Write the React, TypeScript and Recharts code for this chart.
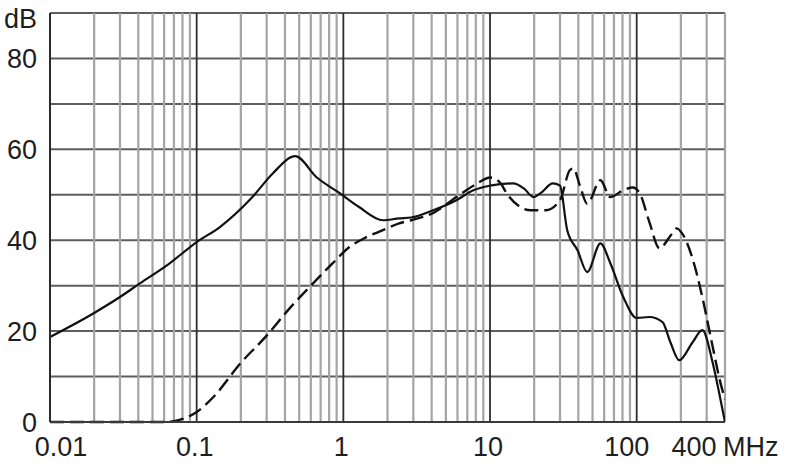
import { LineChart, Line, XAxis, YAxis, CartesianGrid, ReferenceLine } from "recharts";

/* ---- data (MHz, dB) ---- */

const solidFreq = [
  0.01, 0.02, 0.03, 0.041, 0.063, 0.1, 0.144, 0.24, 0.33, 0.47, 0.66, 0.95, 1.28,
  1.86, 2.4, 2.9, 4.1, 5.9, 7.7, 10, 14.4, 17, 19.8, 22, 26.8, 30, 33.6, 39.5, 46,
  56.6, 66, 81, 100, 122, 150, 170, 195, 240, 280, 330, 365, 400,
];
const solidDb = [
  18.7, 24, 27.5, 30.5, 34.5, 39.6, 42.9, 49.5, 54.7, 58.5, 53.8, 50.3, 47.3,
  44.4, 44.8, 45, 46.6, 48.8, 51, 52, 52.5, 51.4, 49.5, 50.3, 52.5, 52, 42.2, 37.8, 33,
  39.3, 35, 27.5, 22.9, 23.1, 22, 17.5, 13.6, 17.5, 20.2, 13, 6.4, 0,
];

const dashedFreq = [
  0.01, 0.03, 0.06, 0.075, 0.1, 0.13, 0.2, 0.3, 0.43, 0.6, 0.85, 1.1, 1.4, 1.86,
  2.4, 2.9, 4.1, 5.9, 8.2, 10, 11.7, 13, 19, 24, 30, 35, 37, 41, 46, 56.6, 66, 81,
  94, 105, 122, 143, 170, 187, 204, 255, 280, 330, 370, 400,
];
const dashedDb = [
  0, 0, 0, 0.4, 2.2, 5.5, 13, 19, 25, 30, 35, 38.5, 40.5, 42.2,
  43.7, 44.4, 46, 49.5, 52.5, 53.8, 52.7, 50.3, 46.6, 46.6, 48.8, 55.4, 55.8, 52, 48, 53.2, 49.5, 51,
  51.6, 50.3, 44, 38.2, 41, 42.6, 41.5, 33, 27.5, 16.5, 9, 5,
];

const yTicks = [0, 10, 20, 30, 40, 50, 60, 70, 80, 90];
const yLabels: Record<number, string> = { 0: "0", 20: "20", 40: "40", 60: "60", 80: "80", 90: "dB" };

const xTicks = [0.01, 0.1, 1, 10, 100, 400];
const xLabels = ["0.01", "0.1", "1", "10", "100", "400"];
const xLabelShift = [11, -2, -2, -2, -10, -31];

const decades = [0.01, 0.1, 1, 10, 100];
const minorSteps = [2, 3, 4, 5, 6, 7, 8, 9];

const solidData = solidFreq.map((f, i) => ({ f, db: solidDb[i] }));
const dashedData = dashedFreq.map((f, i) => ({ f, db: dashedDb[i] }));

const minorLines: number[] = [];
decades.forEach((d) => {
  minorSteps.forEach((m) => {
    const v = +(d * m).toPrecision(3);
    if (v < 400) minorLines.push(v);
  });
});

const FONT = "'Liberation Sans', Arial, sans-serif";
const INK = "#1e1e1e";

function YTick({ y, payload }: any) {
  const label = yLabels[payload.value];
  if (!label) return null;
  const isUnit = payload.value === 90;
  return (
    <text
      x={37}
      y={y + (isUnit ? 6 : 1)}
      textAnchor="end"
      dominantBaseline="central"
      fontFamily={FONT}
      fontSize={27}
      fill={INK}
    >
      {label}
    </text>
  );
}

function XTick({ x, payload, index }: any) {
  const label = xLabels[index];
  if (label === undefined) return null;
  return (
    <g>
      <text
        x={x + xLabelShift[index]}
        y={447}
        textAnchor="middle"
        dominantBaseline="central"
        fontFamily={FONT}
        fontSize={27}
        fill={INK}
      >
        {label}
      </text>
      {index === xTicks.length - 1 && (
        <text
          x={x - 2}
          y={447}
          textAnchor="start"
          dominantBaseline="central"
          fontFamily={FONT}
          fontSize={27}
          fill={INK}
        >
          MHz
        </text>
      )}
    </g>
  );
}

export default function App() {
  return (
    <div style={{ position: "fixed", left: 0, top: 0, width: 790, height: 463, background: "#fff" }}>
      <LineChart
        width={790}
        height={463}
        margin={{ top: 13, right: 65, bottom: 0, left: 0 }}
      >
        <CartesianGrid vertical={false} stroke="#5e5e5e" strokeWidth={2} />

        <XAxis
          dataKey="f"
          type="number"
          scale="log"
          domain={[0.01, 400]}
          allowDataOverflow
          ticks={xTicks}
          interval={0}
          height={41}
          tick={<XTick />}
          tickLine={false}
          axisLine={{ stroke: "#3a3a3a", strokeWidth: 2 }}
        />
        <YAxis
          type="number"
          domain={[0, 90]}
          ticks={yTicks}
          interval={0}
          width={50}
          tick={<YTick />}
          tickLine={false}
          axisLine={{ stroke: "#2a2a2a", strokeWidth: 2 }}
        />

        {minorLines.map((v) => (
          <ReferenceLine key={"m" + v} x={v} stroke="#a4a4a4" strokeWidth={2.2} ifOverflow="hidden" />
        ))}
        {decades.slice(1).map((v) => (
          <ReferenceLine key={"d" + v} x={v} stroke="#2e2e2e" strokeWidth={1.8} />
        ))}
        <ReferenceLine x={400} stroke="#a4a4a4" strokeWidth={2.2} />

        <Line
          data={dashedData}
          dataKey="db"
          type="monotone"
          stroke="#111"
          strokeWidth={2.4}
          strokeDasharray="14 6"
          dot={false}
          isAnimationActive={false}
        />
        <Line
          data={solidData}
          dataKey="db"
          type="monotone"
          stroke="#111"
          strokeWidth={2.2}
          dot={false}
          isAnimationActive={false}
        />
      </LineChart>
    </div>
  );
}
